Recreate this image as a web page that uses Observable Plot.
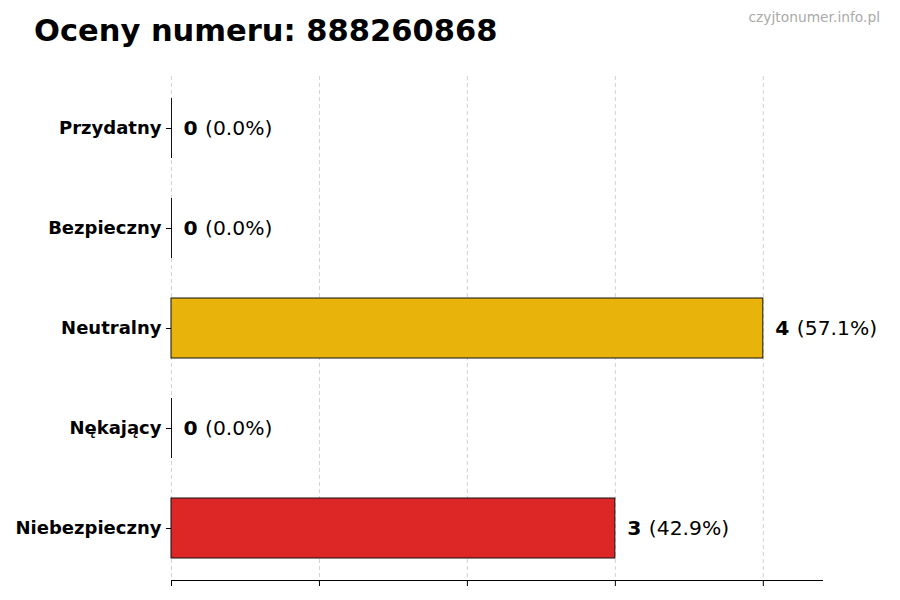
<!DOCTYPE html>
<html>
<head>
<meta charset="utf-8">
<script src="https://cdn.jsdelivr.net/npm/d3@7"></script>
<script src="https://cdn.jsdelivr.net/npm/@observablehq/plot@0.6"></script>
<style>
  html, body { margin: 0; padding: 0; background: #fff; }
  #wrap { position: relative; width: 900px; height: 600px; font-family: "DejaVu Sans", sans-serif; }
  #title { position: absolute; left: 34px; top: 13px; font-size: 30.5px; font-weight: bold; color: #000; white-space: nowrap; line-height: normal; }
  #mark { position: absolute; right: 20px; top: 9px; font-size: 13.8px; color: #aaaaaa; white-space: nowrap; }
  #chart { position: absolute; left: 0; top: 0; }
</style>
</head>
<body>
<div id="wrap">
  <div id="chart"></div>
  <div id="title">Oceny numeru: 888260868</div>
  <div id="mark">czyjtonumer.info.pl</div>
</div>
<script>
const categories = ["Przydatny", "Bezpieczny", "Neutralny", "Nękający", "Niebezpieczny"];
const counts = [0, 0, 4, 0, 3];
const percents = ["0.0%", "0.0%", "57.1%", "0.0%", "42.9%"];
const colors = ["#2ca02c", "#8bc34a", "#e8b30a", "#f39c12", "#dd2626"];
const xTicks = [0, 1, 2, 3, 4];

const data = categories.map((c, i) => ({cat: c, n: counts[i], pct: "(" + percents[i] + ")", color: colors[i]}));

const chart = Plot.plot({
  width: 900,
  height: 600,
  marginTop: 78,
  marginBottom: 22,
  marginLeft: 171,
  marginRight: 78,
  style: {fontFamily: "DejaVu Sans, sans-serif", background: "transparent"},
  x: {domain: [0, 4.4], axis: null},
  y: {domain: categories, paddingInner: 0.4, paddingOuter: 0.2, axis: null},
  marks: [
    Plot.gridX(xTicks, {stroke: "#c8c8c8", strokeOpacity: 1, strokeDasharray: "4,3", strokeWidth: 0.8, insetTop: -2, insetBottom: -2}),
    Plot.barX(data, {x: "n", y: "cat", fill: "color", stroke: "#111", strokeWidth: 1}),
    Plot.tickX(data.filter(d => d.n === 0), {x: "n", y: "cat", stroke: "#111", strokeWidth: 1, strokeOpacity: 1}),
    Plot.text(data, {x: "n", y: "cat", text: d => String(d.n), textAnchor: "start", dx: 12, fontSize: 20.3, fontWeight: "bold", fill: "#000"}),
    Plot.text(data, {x: "n", y: "cat", text: "pct", textAnchor: "start", dx: 33.5, fontSize: 20.3, fill: "#000"}),
    Plot.axisY({tickSize: 5, tickPadding: 5, fontSize: 18, fontWeight: "bold", stroke: "#000", color: "#000", label: null}),
    Plot.axisX(xTicks, {tickSize: 6, tickFormat: () => "", dy: 2, stroke: "#000", label: null}),
    Plot.frame({anchor: "bottom", dy: 2, stroke: "#000", strokeWidth: 1})
  ]
});
document.getElementById("chart").appendChild(chart);
</script>
</body>
</html>
